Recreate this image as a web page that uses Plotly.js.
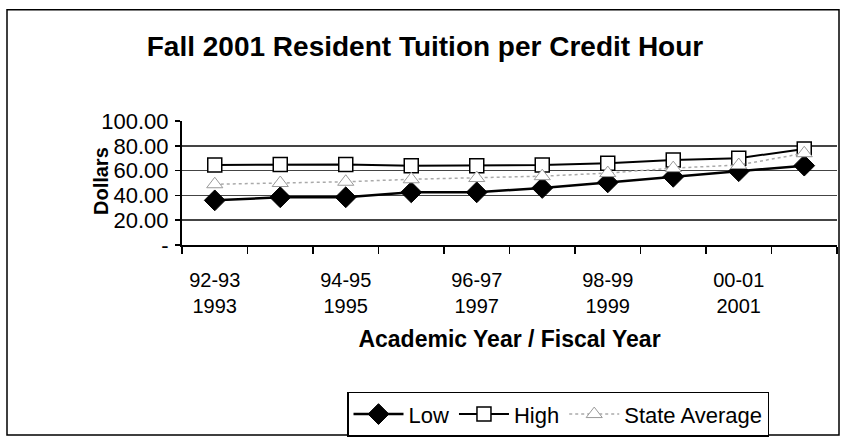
<!DOCTYPE html>
<html>
<head>
<meta charset="utf-8">
<script src="https://cdn.plot.ly/plotly-3.0.1.min.js"></script>
<style>html,body{margin:0;padding:0;background:#fff;}</style>
</head>
<body>
<div id="chart" style="width:847px;height:446px;"></div>
<script>
// Categories: academic year / fiscal year
var categories = ["92-93<br>1993","93-94<br>1994","94-95<br>1995","95-96<br>1996","96-97<br>1997",
                  "97-98<br>1998","98-99<br>1999","99-00<br>2000","00-01<br>2001","01-02<br>2002"];
var tickLabels = ["92-93<br>1993","","94-95<br>1995","","96-97<br>1997","","98-99<br>1999","","00-01<br>2001",""];
var lowValues  = [36.0, 38.5, 38.5, 42.5, 42.5, 46.0, 50.5, 55.0, 59.5, 64.0];
var highValues = [64.5, 65.0, 65.0, 64.0, 64.0, 64.5, 66.0, 68.5, 70.0, 77.5];
var stateAvgValues = [49.0, 50.0, 51.0, 53.0, 54.0, 55.5, 58.0, 62.0, 64.5, 74.0];
var yTickVals = [0, 20, 40, 60, 80, 100];
var yTickText = ["-", "20.00", "40.00", "60.00", "80.00", "100.00"];

var FONT = "Liberation Sans, Arial, sans-serif";

var traces = [
  {name: "Low", x: categories, y: lowValues, type: "scatter", mode: "lines+markers",
   line: {color: "#000", width: 2.5},
   marker: {symbol: "diamond", size: 16, color: "#000", line: {color: "#000", width: 1}}},
  {name: "High", x: categories, y: highValues, type: "scatter", mode: "lines+markers",
   line: {color: "#000", width: 2},
   marker: {symbol: "square", size: 14, color: "#fff", line: {color: "#000", width: 1.5}}},
  {name: "State Average", x: categories, y: stateAvgValues, type: "scatter", mode: "lines+markers",
   line: {color: "#aaa", width: 1.5, dash: "dot"},
   marker: {symbol: "triangle-up", size: 14, color: "#fff", line: {color: "#999", width: 1}}}
];

var L = 182, R = 837, T = 121, B = 247, W = 847, H = 446;
function px2x(p){ return (p - L) / (R - L); }
function px2y(p){ return (B - p) / (B - T); }

var layout = {
  width: W, height: H,
  margin: {l: L, r: W - R, t: T, b: H - B},
  paper_bgcolor: "#fff", plot_bgcolor: "#fff",
  font: {family: FONT, color: "#000", size: 21},
  showlegend: true,
  title: {text: "<b>Fall 2001 Resident Tuition per Credit Hour</b>",
          font: {family: FONT, size: 28, color: "#000"},
          x: 425 / W, xanchor: "center", xref: "container",
          y: 1 - 46 / H, yanchor: "middle", yref: "container"},
  xaxis: {
    type: "category",
    range: [-0.5, 9.5], autorange: false,
    tickmode: "array", tickvals: categories, ticktext: tickLabels,
    tickson: "boundaries",
    ticks: "outside", ticklen: 7, tickwidth: 1.5, tickcolor: "#000",
    showline: true, linecolor: "#000", linewidth: 2,
    showgrid: false, zeroline: false,
    tickfont: {family: FONT, size: 20, color: "#000"},
    ticklabelstandoff: 16,
    title: {text: "<b>Academic Year / Fiscal Year</b>", font: {family: FONT, size: 23, color: "#000"}, standoff: 15}
  },
  yaxis: {
    range: [0, 100], autorange: false,
    tickmode: "array", tickvals: yTickVals, ticktext: yTickText,
    ticks: "outside", ticklen: 5, tickwidth: 1.5, tickcolor: "#000",
    showline: true, linecolor: "#000", linewidth: 2,
    showgrid: true, gridcolor: "#444", gridwidth: 1.5,
    zeroline: false,
    tickfont: {family: FONT, size: 22, color: "#000"},
    ticklabelstandoff: 2
  },
  annotations: [
    {text: "<b>Dollars</b>", textangle: -90, showarrow: false,
     xref: "paper", yref: "paper", x: px2x(101), y: px2y(182),
     xanchor: "center", yanchor: "middle",
     font: {family: FONT, size: 20, color: "#000"}}
  ],
  legend: {
    orientation: "h",
    x: px2x(558), xanchor: "center",
    y: px2y(419), yanchor: "middle",
    bordercolor: "#000", borderwidth: 1.5, bgcolor: "#fff",
    font: {family: FONT, size: 22, color: "#000"},
    itemwidth: 50, tracegroupgap: 0
  },
  shapes: [
    {type: "rect", xref: "paper", yref: "paper",
     x0: px2x(7), x1: px2x(839), y0: px2y(440), y1: px2y(8),
     line: {color: "#000", width: 1.5}, fillcolor: "rgba(0,0,0,0)", layer: "below"}
  ]
};

Plotly.newPlot("chart", traces, layout, {displayModeBar: false, staticPlot: true});
</script>
</body>
</html>
